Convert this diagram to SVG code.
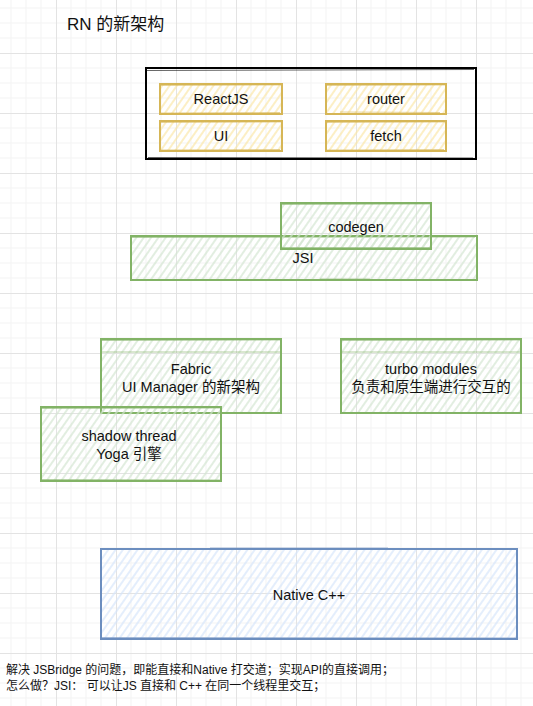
<svg xmlns="http://www.w3.org/2000/svg" width="533" height="706" viewBox="0 0 533 706">
<defs>
<pattern id="grid" x="56" y="53" width="60" height="60" patternUnits="userSpaceOnUse">
<path d="M15 0V60M30 0V60M45 0V60M0 15H60M0 30H60M0 45H60" stroke="#f3f3f3" stroke-width="1" fill="none"/>
<path d="M0.5 0V60M0 0.5H60" stroke="#e3e3e3" stroke-width="1" fill="none"/>
</pattern>
<pattern id="hy" width="6" height="6" patternUnits="userSpaceOnUse" patternTransform="rotate(35)">
<line x1="2" y1="0" x2="2" y2="6" stroke="#fbe6a6" stroke-width="1.3"/>
</pattern>
<pattern id="hg" width="6" height="6" patternUnits="userSpaceOnUse" patternTransform="rotate(35)">
<line x1="2" y1="0" x2="2" y2="6" stroke="#d2e5d0" stroke-width="1.3"/>
</pattern>
<pattern id="hb" width="6" height="6" patternUnits="userSpaceOnUse" patternTransform="rotate(35)">
<line x1="2" y1="0" x2="2" y2="6" stroke="#d6e5fb" stroke-width="1.3"/>
</pattern>
</defs>
<style>
text{font-family:"Liberation Sans","Noto Sans CJK SC",Arial,sans-serif;fill:#111;}
.t{font-size:14.5px;text-anchor:middle;}
.y{fill:url(#hy);stroke:#d6b656;stroke-width:2;}
.g{fill:url(#hg);stroke:#82b366;stroke-width:2;}
.b{fill:url(#hb);stroke:#6c8ebf;stroke-width:2;}
.k{fill:none;stroke:#000;stroke-width:2;}
.s{fill:none;stroke-width:1;opacity:0.6;}
</style>
<rect width="533" height="706" fill="#ffffff"/>
<rect width="533" height="706" fill="url(#grid)"/>
<text id="title" x="67" y="30" style="font-size:17px">RN 的新架构</text>
<g id="container">
<rect class="k" x="146" y="68" width="330" height="91"/>
<path class="s" stroke="#000" d="M147 70.5 L474 69.5 M148 157.5 L473 158"/>
</g>
<g id="reactjs">
<rect class="y" x="160" y="84" width="122" height="30"/>
<path class="s" stroke="#d6b656" d="M161 85.5 L281 85 M161 113 L280 112.5"/>
<text class="t" x="221" y="104">ReactJS</text>
</g>
<g id="router">
<rect class="y" x="326" y="84" width="120" height="30"/>
<path class="s" stroke="#d6b656" d="M327 85.5 L445 85 M340 112 L440 112.5"/>
<text class="t" x="386" y="104">router</text>
</g>
<g id="ui">
<rect class="y" x="160" y="121" width="122" height="30"/>
<path class="s" stroke="#d6b656" d="M161 122.5 L281 122 M161 150 L280 149.5"/>
<text class="t" x="221" y="141">UI</text>
</g>
<g id="fetch">
<rect class="y" x="326" y="121" width="120" height="30"/>
<path class="s" stroke="#d6b656" d="M327 122.5 L445 122 M327 150 L444 149.5"/>
<text class="t" x="386" y="141">fetch</text>
</g>
<g id="jsi">
<rect class="g" x="131" y="236" width="346" height="44"/>
<path class="s" stroke="#82b366" d="M132 237.5 L475 237 M320 279 L370 279"/>
<text class="t" x="303" y="263">JSI</text>
</g>
<g id="codegen">
<rect class="g" x="281" y="203" width="150" height="46"/>
<path class="s" stroke="#82b366" d="M282 204.5 L430 204 M282 247.5 L430 247.5"/>
<text class="t" x="356" y="232">codegen</text>
</g>
<g id="fabric">
<rect class="g" x="101" y="339" width="180" height="74"/>
<path class="s" stroke="#82b366" d="M102 340.5 L280 340 M102 352 L280 352"/>
<text class="t" x="191" y="374">Fabric</text>
<text class="t" x="191" y="392">UI Manager 的新架构</text>
</g>
<g id="shadow">
<rect class="g" x="41" y="407" width="180" height="74"/>
<path class="s" stroke="#82b366" d="M42 408.5 L220 408 M42 479.5 L220 480"/>
<text class="t" x="129" y="441">shadow thread</text>
<text class="t" x="129" y="459">Yoga 引擎</text>
</g>
<g id="turbo">
<rect class="g" x="341" y="339" width="180" height="74"/>
<path class="s" stroke="#82b366" d="M342 340.5 L520 340 M342 352 L520 352"/>
<text class="t" x="431" y="374">turbo modules</text>
<text class="t" x="431" y="392">负责和原生端进行交互的</text>
</g>
<g id="native">
<rect class="b" x="101" y="549" width="416" height="90"/>
<path class="s" stroke="#6c8ebf" d="M210 548 L388 548 M102 637.5 L516 638"/>
<text class="t" x="309" y="600">Native C++</text>
</g>
<g id="connectors"></g>
<g id="note">
<text x="6" y="674" style="font-size:12px">解决 JSBridge 的问题，即能直接和Native 打交道；实现API的直接调用；</text>
<text x="6" y="690" style="font-size:12px">怎么做？JSI： 可以让JS 直接和 C++ 在同一个线程里交互；</text>
</g>
</svg>
